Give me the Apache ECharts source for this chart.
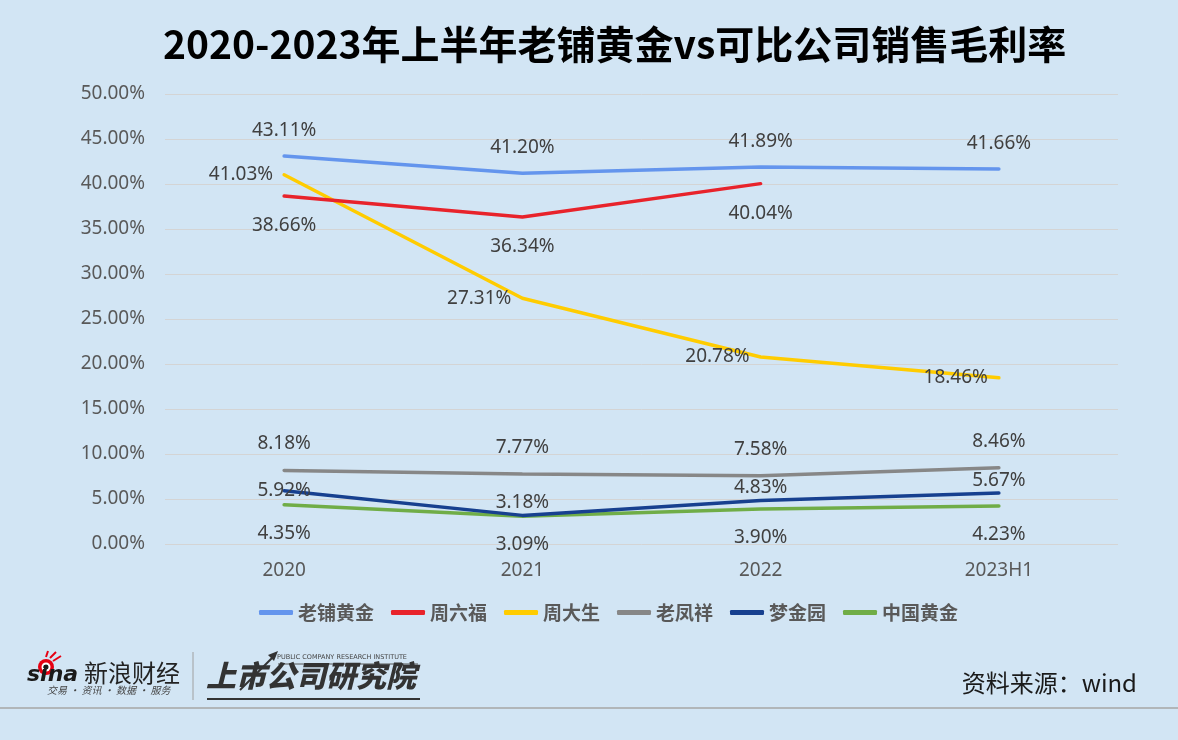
<!DOCTYPE html>
<html>
<head>
<meta charset="utf-8">
<script src="https://cdn.jsdelivr.net/npm/echarts@6/dist/echarts.min.js"></script>
<style>
  html, body { margin: 0; padding: 0; background: #d2e5f4; }
  #chart { width: 1178px; height: 740px; }
</style>
</head>
<body>
<div id="chart"></div>
<script>
// 数据
const years = ['2020', '2021', '2022', '2023H1'];
const seriesNames = ['老铺黄金', '周六福', '周大生', '老凤祥', '梦金园', '中国黄金'];
const lpgold = [43.11, 41.20, 41.89, 41.66];
const zlf = [38.66, 36.34, 40.04, '-'];
const zds = [41.03, 27.31, 20.78, 18.46];
const lfx = [8.18, 7.77, 7.58, 8.46];
const mjy = [5.92, 3.18, 4.83, 5.67];
const zggold = [4.35, 3.09, 3.90, 4.23];

const fontFamily = '"Noto Sans", "Noto Sans CJK SC", sans-serif';
const colors = ['#6495ed', '#e8232b', '#ffcc00', '#878787', '#17408f', '#70ad47'];

function mkSeries(i, data, pos, dist, firstPos) {
  return {
    name: seriesNames[i],
    type: 'line',
    data: data.map(function (v, k) {
      if (k === 0 && firstPos) return { value: v, label: { position: firstPos } };
      return v;
    }),
    symbol: 'circle',
    symbolSize: 0,
    lineStyle: { width: 3.5, color: colors[i], cap: 'round' },
    itemStyle: { color: colors[i] },
    label: {
      show: true,
      position: pos,
      distance: dist,
      color: '#404040',
      fontSize: 19,
      fontFamily: fontFamily,
      formatter: function (p) { return Number(p.value).toFixed(2) + '%'; }
    },
    emphasis: { disabled: true },
    z: 10 - i
  };
}

const chart = echarts.init(document.getElementById('chart'));
chart.setOption({
  backgroundColor: '#d2e5f4',
  animation: false,
  color: colors,
  title: {
    text: '2020-2023年上半年老铺黄金vs可比公司销售毛利率',
    left: 158,
    top: 20,
    textStyle: { fontSize: 39, fontWeight: 'bold', color: '#000', fontFamily: '"Noto Sans CJK SC", sans-serif' }
  },
  legend: {
    data: seriesNames,
    top: 598,
    left: 254,
    icon: 'roundRect',
    itemWidth: 34,
    itemHeight: 5,
    itemGap: 17,
    textStyle: { fontSize: 19, fontWeight: 'bold', color: '#595959', fontFamily: '"Noto Sans CJK SC", sans-serif' }
  },
  grid: { left: 165, right: 60, top: 94, bottom: 196 },
  xAxis: {
    type: 'category',
    data: years,
    boundaryGap: true,
    axisLine: { show: false },
    axisTick: { show: false },
    axisLabel: { color: '#595959', fontSize: 19, margin: 17, fontFamily: fontFamily }
  },
  yAxis: {
    type: 'value',
    min: 0,
    max: 50,
    interval: 5,
    axisLine: { show: false },
    axisTick: { show: false },
    axisLabel: {
      color: '#595959', fontSize: 19, margin: 20, fontFamily: fontFamily,
      formatter: function (v) { return v.toFixed(2) + '%'; }
    },
    splitLine: { lineStyle: { color: '#d4d4d4', width: 1 } }
  },
  series: [
    mkSeries(0, lpgold, 'top', 16),
    mkSeries(1, zlf, 'bottom', 20),
    mkSeries(2, zds, 'left', 11),
    mkSeries(3, lfx, 'top', 17),
    mkSeries(4, mjy, 'top', 3, 'inside'),
    mkSeries(5, zggold, 'bottom', 19)
  ],
  graphic: [
    // 底部分隔线
    { type: 'line', shape: { x1: 0, y1: 708, x2: 1178, y2: 708 }, style: { stroke: '#a6a6a6', lineWidth: 1.5 } },
    // 新浪财经 logo
    { type: 'circle', shape: { cx: 46, cy: 667, r: 8 }, style: { fill: '#e60012' } },
    { type: 'circle', shape: { cx: 46, cy: 667, r: 4.5 }, style: { fill: '#fff' } },
    { type: 'circle', shape: { cx: 46, cy: 667, r: 2.5 }, style: { fill: '#222' } },
    { type: 'line', shape: { x1: 50, y1: 658, x2: 56, y2: 652 }, style: { stroke: '#e60012', lineWidth: 2 } },
    { type: 'line', shape: { x1: 53, y1: 661, x2: 61, y2: 656 }, style: { stroke: '#e60012', lineWidth: 2 } },
    { type: 'line', shape: { x1: 46, y1: 657, x2: 48, y2: 651 }, style: { stroke: '#e60012', lineWidth: 2 } },
    { type: 'text', left: 27, top: 664, style: { text: 'sina', font: 'italic bold 22px "DejaVu Sans", sans-serif', fill: '#1a1a1a' } },
    { type: 'text', left: 84, top: 661, style: { text: '新浪财经', font: '24px "Noto Sans CJK SC", sans-serif', fill: '#222' } },
    { type: 'text', left: 47, top: 685, style: { text: '交易 · 资讯 · 数据 · 服务', font: 'italic 10px "Noto Sans CJK SC", sans-serif', fill: '#444' } },
    { type: 'line', shape: { x1: 193, y1: 652, x2: 193, y2: 700 }, style: { stroke: '#a0a0a0', lineWidth: 1 } },
    // 上市公司研究院 logo
    { type: 'text', left: 277, top: 654, style: { text: 'PUBLIC COMPANY RESEARCH INSTITUTE', font: '6.5px "DejaVu Sans", sans-serif', fill: '#444' } },
    { type: 'line', shape: { x1: 278, y1: 664, x2: 418, y2: 664 }, style: { stroke: '#555', lineWidth: 1 } },
    { type: 'text', left: 206, top: 661, style: { text: '上市公司研究院', font: 'italic 900 30px "Noto Sans CJK SC", sans-serif', fill: '#333' } },
    { type: 'line', shape: { x1: 207, y1: 699, x2: 420, y2: 699 }, style: { stroke: '#333', lineWidth: 2 } },
    { type: 'line', shape: { x1: 240, y1: 690, x2: 275, y2: 655 }, style: { stroke: '#333', lineWidth: 2 } },
    { type: 'polygon', shape: { points: [[278, 651], [268, 655], [274, 661]] }, style: { fill: '#333' } },
    // 资料来源
    { type: 'text', right: 41, top: 671, style: { text: '资料来源：wind', font: '24px "Noto Sans CJK SC", sans-serif', fill: '#1a1a1a' } }
  ]
});
</script>
</body>
</html>
